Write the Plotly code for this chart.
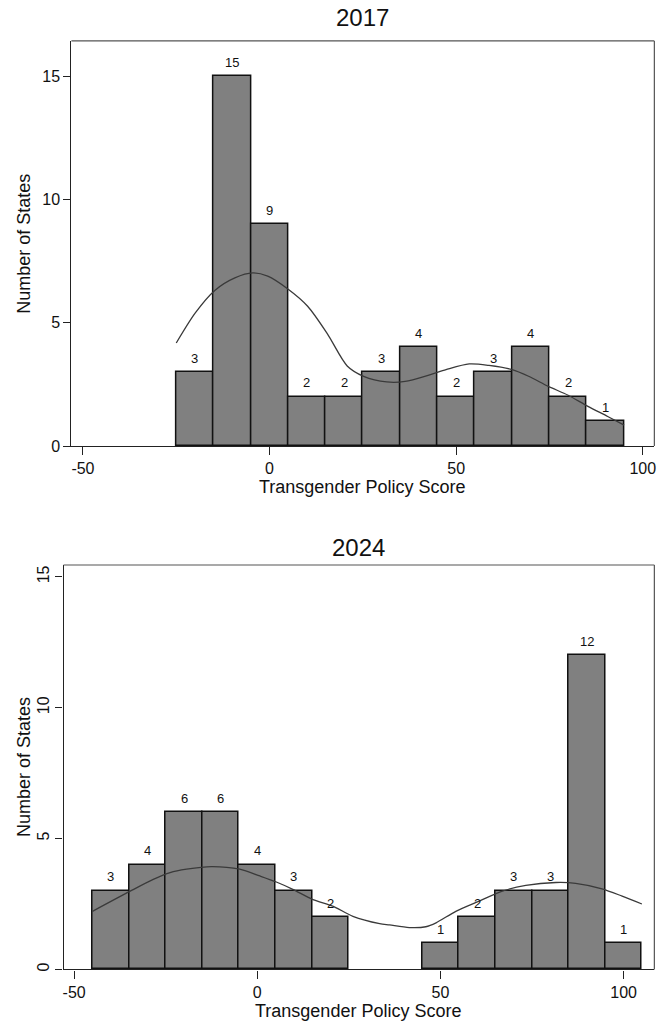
import plotly.graph_objects as go

# ---------------- data ----------------
bin_centers_2017 = [-20, -10, 0, 10, 20, 30, 40, 50, 60, 70, 80, 90]
counts_2017 = [3, 15, 9, 2, 2, 3, 4, 2, 3, 4, 2, 1]

bin_centers_2024 = [-40, -30, -20, -10, 0, 10, 20, 30, 40, 50, 60, 70, 80, 90, 100]
counts_2024 = [3, 4, 6, 6, 4, 3, 2, 0, 0, 1, 2, 3, 3, 12, 1]

bin_width = 10

# kernel density curves (scaled to counts)
kde_x_2017 = [-25, -19.9, -14.6, -9.3, -4.5, -0.5, 4.9, 10.2, 15.5, 20.8, 25.2, 31.4,
              36.3, 42.9, 47.3, 53.5, 58.8, 65.0, 69.4, 74.7, 80.0, 85.3, 90.6, 95]
kde_y_2017 = [4.18, 5.40, 6.32, 6.82, 7.02, 6.89, 6.37, 5.67, 4.55, 3.25, 2.83, 2.60,
              2.62, 2.89, 3.10, 3.33, 3.27, 3.10, 2.83, 2.42, 2.06, 1.61, 1.20, 0.85]

kde_x_2024 = [-45, -34.7, -28.4, -23.8, -19.3, -12.5, -4.8, 0.7, 5.2, 9.7, 15.2, 20.6,
              26.1, 33.4, 36.1, 41.5, 46.0, 48.8, 54.2, 60.6, 66.9, 73.3, 81.5, 86.9,
              94.1, 99.6, 105]
kde_y_2024 = [2.22, 2.99, 3.44, 3.70, 3.83, 3.93, 3.83, 3.57, 3.34, 3.06, 2.67, 2.42,
              2.03, 1.75, 1.70, 1.60, 1.63, 1.78, 2.22, 2.61, 2.99, 3.21, 3.32, 3.29,
              3.08, 2.80, 2.50]

panel_titles = ["2017", "2024"]
x_title = "Transgender Policy Score"
y_title = "Number of States"
x_ticks = [-50, 0, 50, 100]
y_ticks = [0, 5, 10, 15]

# ---------------- layout constants ----------------
W, H = 670, 1026
FONT = "Liberation Sans, Arial, Helvetica, sans-serif"
BAR_FILL = "#808080"
BAR_LINE = "#111111"
KDE_COLOR = "#3a3a3a"
FRAME = "#555555"


def px_x(p):
    return p / W


def px_y(p):
    return 1 - p / H


fig = go.Figure()

panels = [
    dict(xa="x", ya="y", centers=bin_centers_2017, counts=counts_2017,
         kx=kde_x_2017, ky=kde_y_2017,
         xdom=[px_x(70.7), px_x(656.3)], ydom=[px_y(450), px_y(41.3)],
         xrange=[-53.1, 103.1], yrange=[0, 16.43],
         title=panel_titles[0], title_xy=(363, 18),
         xt_xy=(363, 491), yt_xy=(23, 246)),
    dict(xa="x2", ya="y2", centers=bin_centers_2024, counts=counts_2024,
         kx=kde_x_2024, ky=kde_y_2024,
         xdom=[px_x(62.8), px_x(656.3)], ydom=[px_y(978), px_y(570)],
         xrange=[-52.9, 108.4], yrange=[0, 15.45],
         title=panel_titles[1], title_xy=(359, 552),
         xt_xy=(359, 1020), yt_xy=(23, 774)),
]

annotations = []
shapes = []
for p in panels:
    # only non-empty bins are drawn as bars
    bx = [c for c, n in zip(p["centers"], p["counts"]) if n > 0]
    by = [n for n in p["counts"] if n > 0]
    fig.add_trace(go.Bar(
        x=bx, y=by, width=bin_width,
        marker=dict(color=BAR_FILL, line=dict(color=BAR_LINE, width=1.5)),
        xaxis=p["xa"], yaxis=p["ya"], showlegend=False, hoverinfo="skip"))
    fig.add_trace(go.Scatter(
        x=p["kx"], y=p["ky"], mode="lines",
        line=dict(color=KDE_COLOR, width=1.3, shape="spline", smoothing=0.8),
        xaxis=p["xa"], yaxis=p["ya"], showlegend=False, hoverinfo="skip"))

    # value labels above bars
    for c, n in zip(bx, by):
        annotations.append(dict(
            x=c, y=n, xref=p["xa"], yref=p["ya"], text=str(n),
            showarrow=False, yshift=14,
            font=dict(family=FONT, size=13, color="#111111")))

    # titles
    annotations.append(dict(
        x=px_x(p["title_xy"][0]), y=px_y(p["title_xy"][1]), xref="paper", yref="paper",
        text=p["title"], showarrow=False, xanchor="center", yanchor="middle",
        font=dict(family=FONT, size=24, color="#111111")))
    annotations.append(dict(
        x=px_x(p["xt_xy"][0]), y=px_y(p["xt_xy"][1]), xref="paper", yref="paper",
        text=x_title, showarrow=False, xanchor="center", yanchor="middle",
        font=dict(family=FONT, size=18, color="#111111")))
    annotations.append(dict(
        x=px_x(p["yt_xy"][0]), y=px_y(p["yt_xy"][1]), xref="paper", yref="paper",
        text=y_title, showarrow=False, xanchor="center", yanchor="middle", textangle=-90,
        font=dict(family=FONT, size=18, color="#111111")))

    # frame: top and right border
    dx = p["xa"] + " domain"
    dy = p["ya"] + " domain"
    shapes.append(dict(type="line", xref=dx, yref=dy, x0=0, x1=1, y0=1, y1=1,
                       line=dict(color=FRAME, width=1.2), layer="above"))
    shapes.append(dict(type="line", xref=dx, yref=dy, x0=1, x1=1, y0=0, y1=1,
                       line=dict(color=FRAME, width=1.2), layer="above"))

common_x = dict(tickvals=x_ticks, ticktext=[str(v) for v in x_ticks], ticks="outside",
                ticklen=8, tickcolor="#222222", tickwidth=1, showline=True,
                linecolor="#222222", linewidth=1.2, showgrid=False, zeroline=False,
                tickfont=dict(family=FONT, size=16, color="#111111"))
common_y = dict(tickvals=y_ticks, ticktext=[str(v) for v in y_ticks], ticks="outside",
                ticklen=7, tickcolor="#222222", tickwidth=1, showline=True,
                linecolor="#222222", linewidth=1.2, showgrid=False, zeroline=False,
                tickfont=dict(family=FONT, size=16, color="#111111"))

fig.update_layout(
    width=W, height=H, margin=dict(l=0, r=0, t=0, b=0),
    paper_bgcolor="white", plot_bgcolor="white", bargap=0,
    font=dict(family=FONT, color="#111111"),
    xaxis=dict(domain=panels[0]["xdom"], range=panels[0]["xrange"], anchor="y", **common_x),
    yaxis=dict(domain=panels[0]["ydom"], range=panels[0]["yrange"], anchor="x",
               tickangle=0, **common_y),
    xaxis2=dict(domain=panels[1]["xdom"], range=panels[1]["xrange"], anchor="y2", **common_x),
    yaxis2=dict(domain=panels[1]["ydom"], range=panels[1]["yrange"], anchor="x2",
                tickangle=-90, **common_y),
    annotations=annotations,
    shapes=shapes,
)

fig.write_html("out.html", config={"displayModeBar": False},
               post_script="document.body.style.margin='0';")
